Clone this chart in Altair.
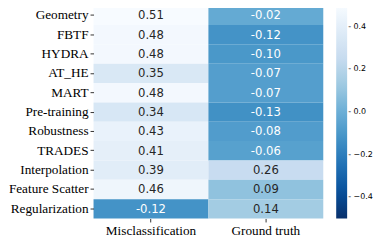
import altair as alt
import pandas as pd

methods = ["Geometry", "FBTF", "HYDRA", "AT_HE", "MART", "Pre-training",
           "Robustness", "TRADES", "Interpolation", "Feature Scatter", "Regularization"]
columns = ["Misclassification", "Ground truth"]
misclassification = [0.51, 0.48, 0.48, 0.35, 0.48, 0.34, 0.43, 0.41, 0.39, 0.46, -0.12]
ground_truth = [-0.02, -0.12, -0.10, -0.07, -0.07, -0.13, -0.08, -0.06, 0.26, 0.09, 0.14]
legend_ticks = [-0.4, -0.2, 0.0, 0.2, 0.4]

blues = ["#f7fbff", "#deebf7", "#c6dbef", "#9ecae1", "#6baed6",
         "#4292c6", "#2171b5", "#08519c", "#08306b"]
dom = [-0.5 + i * 0.125 for i in range(9)]

rows = []
for col, vals in zip(columns, [misclassification, ground_truth]):
    for m, v in zip(methods, vals):
        rows.append({"method": m, "col": col, "value": v, "label": f"{v:.2f}"})
df = pd.DataFrame(rows)

base = alt.Chart(df).encode(
    x=alt.X("col:N", sort=columns, title=None,
            axis=alt.Axis(labelAngle=0, labelFont="Liberation Serif", labelFontSize=13.3,
                          labelColor="black", tickSize=3.5, tickColor="#333",
                          labelPadding=2, domain=False)),
    y=alt.Y("method:N", sort=methods, title=None,
            axis=alt.Axis(labelFont="Liberation Serif", labelFontSize=13.3,
                          labelColor="black", tickSize=3.5, tickColor="#333",
                          labelPadding=2, domain=False)),
)

rect = base.mark_rect().encode(
    color=alt.Color("value:Q",
                    scale=alt.Scale(domain=dom, range=blues[::-1], clamp=True, interpolate="rgb"),
                    legend=alt.Legend(title=None, values=legend_ticks, format=".1f",
                                      labelExpr="'- ' + datum.label",
                                      gradientLength=214, gradientThickness=11,
                                      labelFont="DejaVu Sans", labelFontSize=8,
                                      labelColor="black", offset=13, labelOffset=1,
                                      gradientStrokeWidth=0))
)

text = base.mark_text(font="DejaVu Sans", fontSize=11.7, baseline="middle").encode(
    text="label:N",
    color=alt.condition(alt.datum.value < 0.05, alt.value("white"), alt.value("#262626")),
)

chart = (rect + text).properties(
    width=231, height=214,
    padding={"left": 0, "top": -3, "right": 0, "bottom": 0},
).configure_view(stroke=None).configure_axis(grid=False)

chart.save("out.html", embed_options={"renderer": "svg", "actions": False})
